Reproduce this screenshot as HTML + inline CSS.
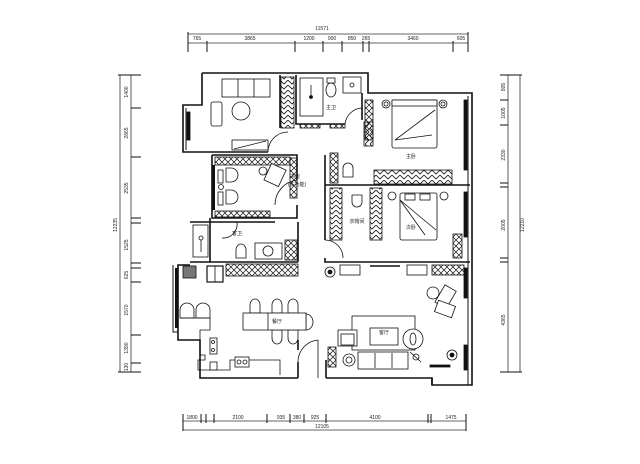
<!DOCTYPE html>
<html><head><meta charset="utf-8"><style>
html,body{margin:0;padding:0;background:#fff;}
svg{display:block;}
text{font-family:"Liberation Sans","Noto Sans CJK SC",sans-serif;fill:#222;}
</style></head><body>
<svg width="640" height="464" viewBox="0 0 640 464" xmlns="http://www.w3.org/2000/svg">
<defs>
<pattern id="hx" width="6" height="6" patternUnits="userSpaceOnUse">
<path d="M0 0L6 6M6 0L0 6" stroke="#111" stroke-width="0.7"/>
</pattern>
<pattern id="hv" width="8" height="5" patternUnits="userSpaceOnUse">
<path d="M0 0L4 4L8 0" stroke="#111" stroke-width="0.8" fill="none"/>
</pattern>
<pattern id="hh" width="5" height="8" patternUnits="userSpaceOnUse">
<path d="M0 0L4 4L0 8" stroke="#111" stroke-width="0.8" fill="none"/>
</pattern>
</defs>
<g stroke="#333" stroke-width="0.8" fill="none">
<!-- top dims -->
<line x1="188" y1="34" x2="468" y2="34"/>
<line x1="188" y1="43" x2="468" y2="43"/>
<g stroke="#111" stroke-width="1">
<line x1="188" y1="32" x2="188" y2="52"/><line x1="207" y1="41" x2="207" y2="52"/>
<line x1="295" y1="41" x2="295" y2="52"/><line x1="323" y1="41" x2="323" y2="52"/>
<line x1="342" y1="41" x2="342" y2="52"/><line x1="363" y1="41" x2="363" y2="52"/>
<line x1="369" y1="41" x2="369" y2="52"/><line x1="453" y1="41" x2="453" y2="52"/>
<line x1="468" y1="32" x2="468" y2="52"/>
</g>
<!-- bottom dims -->
<line x1="183" y1="421" x2="466" y2="421"/>
<line x1="183" y1="430" x2="466" y2="430"/>
<g stroke="#111" stroke-width="1">
<line x1="183" y1="414" x2="183" y2="431"/><line x1="201" y1="414" x2="201" y2="423"/>
<line x1="206" y1="414" x2="206" y2="423"/><line x1="214" y1="414" x2="214" y2="423"/>
<line x1="267" y1="414" x2="267" y2="423"/><line x1="290" y1="414" x2="290" y2="423"/>
<line x1="304" y1="414" x2="304" y2="423"/><line x1="326" y1="414" x2="326" y2="423"/>
<line x1="428" y1="414" x2="428" y2="423"/><line x1="431" y1="414" x2="431" y2="423"/>
<line x1="466" y1="414" x2="466" y2="431"/>
</g>
<!-- left dims -->
<line x1="120" y1="75" x2="120" y2="372"/>
<line x1="131" y1="75" x2="131" y2="372"/>
<g stroke="#111" stroke-width="1">
<line x1="118" y1="75" x2="141" y2="75"/><line x1="131" y1="108" x2="141" y2="108"/>
<line x1="131" y1="157" x2="141" y2="157"/><line x1="131" y1="218" x2="141" y2="218"/>
<line x1="131" y1="223" x2="141" y2="223"/><line x1="131" y1="263" x2="141" y2="263"/>
<line x1="131" y1="268" x2="141" y2="268"/><line x1="131" y1="282" x2="141" y2="282"/>
<line x1="131" y1="335" x2="141" y2="335"/><line x1="131" y1="363" x2="141" y2="363"/>
<line x1="118" y1="372" x2="141" y2="372"/>
</g>
<!-- right dims -->
<line x1="508" y1="75" x2="508" y2="372"/>
<line x1="520" y1="75" x2="520" y2="372"/>
<g stroke="#111" stroke-width="1">
<line x1="500" y1="75" x2="522" y2="75"/><line x1="500" y1="100" x2="508" y2="100"/>
<line x1="500" y1="125" x2="508" y2="125"/><line x1="500" y1="183" x2="508" y2="183"/>
<line x1="500" y1="187" x2="508" y2="187"/><line x1="500" y1="258" x2="508" y2="258"/>
<line x1="500" y1="262" x2="508" y2="262"/><line x1="500" y1="372" x2="522" y2="372"/>
</g>
</g>
<g font-size="5" text-anchor="middle">
<text x="322" y="30">11571</text>
<text x="197" y="40">765</text><text x="250" y="40">3865</text><text x="309" y="40">1200</text>
<text x="332" y="40">900</text><text x="352" y="40">850</text><text x="366" y="40">265</text>
<text x="413" y="40">3460</text><text x="461" y="40">605</text>
<text x="192" y="419">1800</text><text x="238" y="419">2100</text><text x="281" y="419">935</text>
<text x="297" y="419">380</text><text x="315" y="419">925</text><text x="375" y="419">4100</text>
<text x="451" y="419">1475</text><text x="322" y="428">12105</text>
<g transform="rotate(-90)">
<text x="-225" y="117">12235</text>
<text x="-92" y="128">1400</text><text x="-133" y="128">2865</text><text x="-188" y="128">2535</text>
<text x="-245" y="128">1525</text><text x="-275" y="128">625</text><text x="-310" y="128">1570</text>
<text x="-348" y="128">1390</text><text x="-367" y="128">130</text>
<text x="-87" y="505">805</text><text x="-113" y="505">1005</text><text x="-155" y="505">2330</text>
<text x="-225" y="505">2005</text><text x="-320" y="505">4365</text>
<text x="-225" y="524">12210</text>
</g>
</g>

<!-- walls -->
<g stroke="#111" stroke-width="1.6" fill="none">
<path d="M202 73H368V93H472V385H432V378H326"/>
<path d="M298 378H200V340H178V265H190"/>
<path d="M202 73V105H183V152H202"/>
<path d="M186 108V150" stroke-width="1"/>
<path d="M173 265V332H178" stroke-width="1"/>
<path d="M468 96V385" stroke-width="1"/>
<!-- living/study walls -->
<path d="M202 152H268"/>
<path d="M212 155H297V180"/><path d="M297 205V218H212V155"/>
<path d="M210 218V262"/><path d="M190 222H275"/>
<path d="M298 222V262"/>
<path d="M280 128V75"/><path d="M296 75V124H345"/>
<path d="M362 93V120"/>
<path d="M325 155V240"/><path d="M325 258V262H470"/>
<path d="M325 185H470"/>
<path d="M190 262H298"/>
<path d="M298 378V362M298 350V340"/>
<path d="M326 378V360"/>
<path d="M432 385V378"/>
</g>
<!-- doors -->
<g stroke="#111" stroke-width="0.8" fill="none">
<path d="M268 152A20 20 0 0 1 288 132"/><path d="M345 124A18 18 0 0 1 362 108"/>
<path d="M297 180A25 25 0 0 0 275 205"/><path d="M325 240A18 18 0 0 1 343 258"/>
<path d="M298 362A22 22 0 0 1 318 340"/><path d="M318 340V378"/>
<path d="M237 222A14 14 0 0 1 222 238"/>
</g>

<g stroke="#111" stroke-width="0.8" fill="#fff">
<!-- living room top -->
<rect x="222" y="79" width="48" height="18"/><line x1="238" y1="79" x2="238" y2="97"/><line x1="254" y1="79" x2="254" y2="97"/>
<circle cx="241" cy="111" r="9"/>
<rect x="211" y="102" width="11" height="24" rx="2"/>
<rect x="232" y="140" width="36" height="10"/><line x1="234" y1="149" x2="266" y2="141"/>
<rect x="187" y="112" width="3" height="28" fill="#111"/>
<!-- wardrobe column -->
<rect x="281" y="77" width="13" height="51" fill="url(#hv)"/>
<!-- bath -->
<rect x="300" y="78" width="23" height="38"/><line x1="311" y1="85" x2="311" y2="95"/><circle cx="311" cy="97" r="1.5" fill="#111"/>
<ellipse cx="331" cy="90" rx="5" ry="7"/><rect x="327" y="78" width="8" height="5"/>
<rect x="343" y="77" width="18" height="16"/><circle cx="352" cy="85" r="2"/>
<rect x="300" y="124" width="20" height="4" fill="url(#hx)"/><rect x="330" y="124" width="15" height="4" fill="url(#hx)"/>
<!-- master bedroom -->
<rect x="365" y="100" width="8" height="40" fill="url(#hx)"/>
<rect x="364" y="122" width="9" height="24" fill="url(#hh)"/>
<rect x="392" y="100" width="45" height="48" rx="2"/><rect x="392" y="100" width="45" height="6"/>
<line x1="395" y1="140" x2="435" y2="110"/><line x1="395" y1="140" x2="432" y2="135"/>
<circle cx="386" cy="104" r="4"/><circle cx="386" cy="104" r="2"/>
<circle cx="443" cy="104" r="4"/><circle cx="443" cy="104" r="2"/>
<rect x="464" y="100" width="3" height="70" fill="#111"/>
<rect x="374" y="170" width="78" height="14" fill="url(#hv)"/>
<rect x="330" y="153" width="8" height="30" fill="url(#hx)"/>
<path d="M343 177V168A5 5 0 0 1 353 168V177Z"/>
<!-- second bedroom -->
<rect x="330" y="188" width="12" height="52" fill="url(#hv)"/>
<rect x="370" y="188" width="12" height="52" fill="url(#hv)"/>
<path d="M352 195V202A5 5 0 0 0 362 202V195Z"/>
<rect x="400" y="193" width="37" height="47" rx="2"/><rect x="405" y="194" width="10" height="6"/><rect x="420" y="194" width="10" height="6"/>
<line x1="400" y1="200" x2="436" y2="230"/><line x1="400" y1="200" x2="425" y2="235"/>
<circle cx="392" cy="196" r="4"/><circle cx="444" cy="196" r="4"/>
<rect x="464" y="192" width="3" height="45" fill="#111"/>
<rect x="453" y="234" width="9" height="24" fill="url(#hx)"/>
<!-- study -->
<rect x="215" y="157" width="75" height="8" fill="url(#hx)"/>
<rect x="290" y="158" width="7" height="40" fill="url(#hx)"/>
<rect x="215" y="211" width="55" height="6" fill="url(#hx)"/>
<rect x="212" y="165" width="3" height="45" fill="#111" stroke="none"/>
<path d="M226 168H231A7 7 0 0 1 231 182H226Z"/><path d="M226 190H231A7 7 0 0 1 231 204H226Z"/>
<rect x="218" y="170" width="5" height="13"/><rect x="218" y="192" width="5" height="13"/>
<circle cx="221" cy="187" r="2.5"/>
<rect x="267" y="166" width="16" height="18" transform="rotate(25 275 175)"/>
<circle cx="263" cy="171" r="4"/>
<!-- guest bath -->
<rect x="193" y="225" width="15" height="32" fill="none"/><line x1="201" y1="240" x2="201" y2="252"/><circle cx="201" cy="238" r="2"/>
<path d="M236 258V250A5 6 0 0 1 246 250V258Z"/>
<rect x="255" y="243" width="27" height="16"/><circle cx="268" cy="251" r="5"/>
<rect x="285" y="240" width="12" height="20" fill="url(#hx)"/>
<!-- kitchen cabinets row -->
<rect x="226" y="264" width="72" height="12" fill="url(#hx)"/>
<rect x="183" y="266" width="13" height="12" fill="#777"/>
<rect x="207" y="266" width="16" height="16" stroke-width="1.2"/><line x1="215" y1="266" x2="215" y2="282"/>
<rect x="175" y="268" width="3" height="60" fill="#111" stroke="none"/>
<!-- right cabinets row -->
<rect x="340" y="265" width="20" height="10"/><rect x="407" y="265" width="20" height="10"/><rect x="432" y="265" width="32" height="10" fill="url(#hx)"/>
<line x1="370" y1="266" x2="400" y2="266" stroke-width="1.5"/>
<circle cx="330" cy="272" r="5"/><circle cx="330" cy="272" r="2" fill="#111"/>
<!-- dining -->
<path d="M180 318V310A7 7 0 0 1 194 310V318Z"/><path d="M196 318V310A7 7 0 0 1 210 310V318Z"/>
<path d="M180 318H210V330H200V355H205V360H198V370H230V360H280V375" fill="none"/>
<rect x="210" y="338" width="7" height="16"/><circle cx="213" cy="342" r="1.5"/><circle cx="213" cy="350" r="1.5"/>
<rect x="235" y="357" width="14" height="10"/><circle cx="239" cy="362" r="2"/><circle cx="245" cy="362" r="2"/>
<rect x="210" y="362" width="7" height="8"/>
<path d="M250 313V305A5 6 0 0 1 260 305V313Z"/><path d="M272 313V305A5 6 0 0 1 282 305V313Z"/><path d="M288 313V305A5 6 0 0 1 298 305V313Z"/>
<path d="M272 330V338A5 6 0 0 0 282 338V330Z"/><path d="M288 330V338A5 6 0 0 0 298 338V330Z"/>
<path d="M306 314A7 8 0 0 1 306 330Z"/>
<rect x="243" y="313" width="63" height="17"/><line x1="268" y1="313" x2="268" y2="330"/>
<!-- living -->
<rect x="352" y="316" width="63" height="34" fill="none"/>
<rect x="370" y="328" width="28" height="17"/>
<rect x="338" y="330" width="19" height="16"/><rect x="341" y="334" width="13" height="11"/>
<circle cx="413" cy="339" r="10"/><ellipse cx="413" cy="339" rx="3" ry="6"/>
<rect x="358" y="352" width="50" height="17"/><line x1="375" y1="353" x2="375" y2="368"/><line x1="392" y1="353" x2="392" y2="368"/>
<circle cx="349" cy="360" r="6"/><circle cx="349" cy="360" r="3"/>
<rect x="328" y="347" width="8" height="20" fill="url(#hx)"/>
<circle cx="416" cy="357" r="3"/><line x1="410" y1="352" x2="421" y2="362"/>
<rect x="436" y="290" width="20" height="13" transform="rotate(-60 446 297)"/>
<rect x="436" y="303" width="18" height="12" transform="rotate(20 445 309)"/>
<circle cx="433" cy="293" r="6"/>
<circle cx="452" cy="355" r="5"/><circle cx="452" cy="355" r="2" fill="#111"/>
<rect x="464" y="268" width="3" height="30" fill="#111"/><rect x="464" y="345" width="3" height="25" fill="#111"/>
<rect x="430" y="365" width="20" height="2" fill="#111"/>
</g>

<g font-size="5" text-anchor="middle">
<text x="331" y="109">主卫</text>
<text x="411" y="158">主卧</text>
<text x="357" y="223">衣帽间</text>
<text x="411" y="229">次卧</text>
<text x="237" y="235">客卫</text>
<text x="295" y="178">书房</text>
<text x="297" y="186">(多功能)</text>
<text x="277" y="323">餐厅</text>
<text x="384" y="334">客厅</text>
</g>
</svg>
</body></html>
